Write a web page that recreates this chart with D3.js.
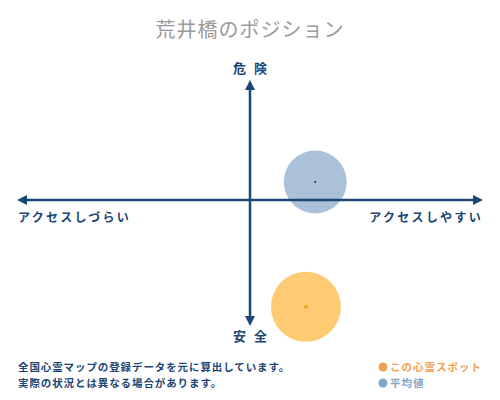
<!DOCTYPE html>
<html>
<head>
<meta charset="utf-8">
<script src="https://cdn.jsdelivr.net/npm/d3@7"></script>
<style>
  body { margin: 0; background: #fff; }
  text { font-family: "Noto Sans CJK JP", sans-serif; }
</style>
</head>
<body>
<div id="position_chart"></div>
<script>
// chart data
var chartTitle = "荒井橋のポジション";
var axisLabels = {top: "危険", bottom: "安全", left: "アクセスしづらい", right: "アクセスしやすい"};
var seriesNames = ["この心霊スポット", "平均値"];
var accessValues = [0.24, 0.28];   // x: access ease
var dangerValues = [-0.89, 0.15];  // y: danger
var sizeValues = [1.0, 0.9];
var notes = ["全国心霊マップの登録データを元に算出しています。", "実際の状況とは異なる場合があります。"];

var fills = ["#fecb72", "#abc1da"];
var dotColors = ["#f5a01e", "#1a3050"];
var legendColors = ["#f0a050", "#80a6c9"];
var axisColor = "#1c4673";

var width = 500, height = 400;

var svg = d3.select("#position_chart")
  .append("svg")
    .attr("width", width)
    .attr("height", height);

// scales
var x = d3.scaleLinear().domain([-1, 1]).range([17, 483]);
var y = d3.scaleLinear().domain([-1, 1]).range([320, 80]);
var r = d3.scaleLinear().domain([0, 1]).range([0, 35]);

svg.append("defs").selectAll("marker")
  .data(["arrow"])
  .enter().append("marker")
    .attr("id", "arrow")
    .attr("viewBox", "0 0 10 10")
    .attr("refX", 5).attr("refY", 5)
    .attr("markerWidth", 4).attr("markerHeight", 4)
    .attr("orient", "auto-start-reverse")
  .append("path")
    .attr("d", "M0,0 L10,5 L0,10 z")
    .attr("fill", axisColor);

// bubbles
var pts = seriesNames.map(function(d, i) {
  return {name: d, x: accessValues[i], y: dangerValues[i], s: sizeValues[i], i: i};
});

svg.selectAll(".bubble")
  .data(pts)
  .enter().append("circle")
    .attr("class", "bubble")
    .attr("cx", function(d) { return x(d.x); })
    .attr("cy", function(d) { return y(d.y); })
    .attr("r", function(d) { return r(d.s); })
    .attr("fill", function(d) { return fills[d.i]; });

// axes
svg.append("line")
  .attr("x1", x(-1) + 5).attr("x2", x(1) - 5)
  .attr("y1", y(0)).attr("y2", y(0))
  .attr("stroke", axisColor).attr("stroke-width", 2.5)
  .attr("marker-start", "url(#arrow)")
  .attr("marker-end", "url(#arrow)");

svg.append("line")
  .attr("x1", x(0)).attr("x2", x(0))
  .attr("y1", y(1) + 5).attr("y2", y(-1) + 1)
  .attr("stroke", axisColor).attr("stroke-width", 2.5)
  .attr("marker-start", "url(#arrow)")
  .attr("marker-end", "url(#arrow)");

// center dots
svg.selectAll(".center")
  .data(pts)
  .enter().append("circle")
    .attr("class", "center")
    .attr("cx", function(d) { return x(d.x); })
    .attr("cy", function(d) { return y(d.y); })
    .attr("r", function(d) { return d.i == 0 ? 2 : 1; })
    .attr("fill", function(d) { return dotColors[d.i]; });

// title
svg.append("text")
  .attr("x", 250).attr("y", 37)
  .attr("text-anchor", "middle")
  .style("font-size", "20px")
  .style("fill", "#9a9a9a")
  .style("letter-spacing", "1px")
  .text(chartTitle);

// axis labels
svg.append("text")
  .attr("x", x(0) + 4).attr("y", 73)
  .attr("text-anchor", "middle")
  .style("font-size", "13px").style("font-weight", "bold")
  .style("letter-spacing", "8px")
  .style("fill", axisColor)
  .text(axisLabels.top);

svg.append("text")
  .attr("x", x(0) + 4).attr("y", 341)
  .attr("text-anchor", "middle")
  .style("font-size", "13px").style("font-weight", "bold")
  .style("letter-spacing", "8px")
  .style("fill", axisColor)
  .text(axisLabels.bottom);

svg.append("text")
  .attr("x", 18).attr("y", 222)
  .attr("text-anchor", "start")
  .style("font-size", "12px").style("font-weight", "bold")
  .style("letter-spacing", "2.3px")
  .style("fill", axisColor)
  .text(axisLabels.left);

svg.append("text")
  .attr("x", 483).attr("y", 222)
  .attr("text-anchor", "end")
  .style("font-size", "12px").style("font-weight", "bold")
  .style("letter-spacing", "2.3px")
  .style("fill", axisColor)
  .text(axisLabels.right);

// notes
svg.selectAll(".note")
  .data(notes)
  .enter().append("text")
    .attr("class", "note")
    .attr("x", 18)
    .attr("y", function(d, i) { return 371 + i * 16; })
    .style("font-size", "10.5px").style("font-weight", "bold")
    .style("letter-spacing", "0.9px")
    .style("fill", axisColor)
    .text(function(d) { return d; });

// legend
var legend = svg.selectAll(".legend")
  .data(seriesNames)
  .enter().append("g")
    .attr("class", "legend")
    .attr("transform", function(d, i) { return "translate(383," + (367 + i * 16) + ")"; });

legend.append("circle")
  .attr("r", 4.5)
  .attr("fill", function(d, i) { return legendColors[i]; });

legend.append("text")
  .attr("x", 7).attr("y", 4)
  .style("font-size", "10.5px").style("font-weight", "bold")
  .style("letter-spacing", "1px")
  .style("fill", function(d, i) { return legendColors[i]; })
  .text(function(d) { return d; });
</script>
</body>
</html>
